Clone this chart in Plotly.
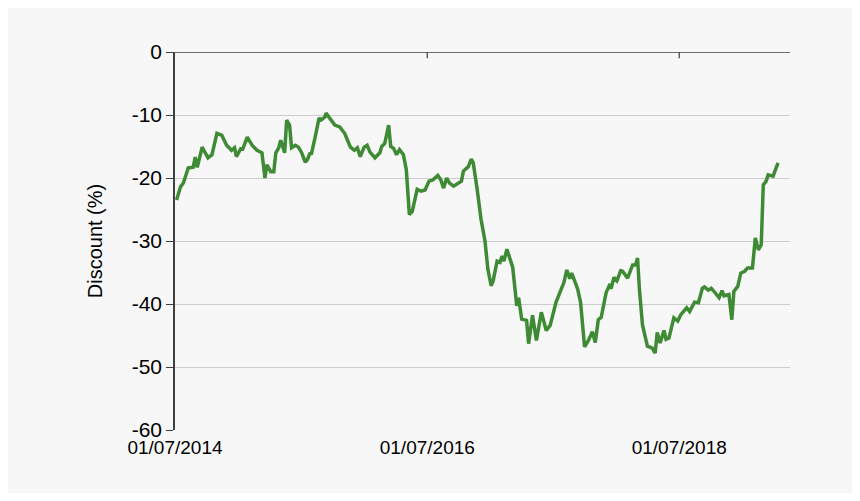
import plotly.graph_objects as go
from datetime import datetime, timedelta

# time as fractional years
years = [2014.508,2014.539,2014.562,2014.601,2014.640,2014.656,2014.672,2014.711,2014.757,2014.789,
2014.828,2014.866,2014.905,2014.944,2014.968,2014.983,2015.022,2015.030,2015.069,2015.108,
2015.147,2015.186,2015.210,2015.225,2015.256,2015.280,2015.296,2015.319,2015.335,2015.366,
2015.382,2015.405,2015.421,2015.452,2015.475,2015.499,2015.530,2015.546,2015.569,2015.577,
2015.608,2015.616,2015.639,2015.655,2015.686,2015.694,2015.733,2015.764,2015.803,2015.842,
2015.888,2015.919,2015.943,2015.966,2015.997,2016.021,2016.044,2016.083,2016.122,2016.137,
2016.161,2016.192,2016.208,2016.231,2016.254,2016.278,2016.309,2016.332,2016.356,2016.379,
2016.418,2016.449,2016.481,2016.512,2016.543,2016.582,2016.605,2016.628,2016.652,2016.675,
2016.707,2016.746,2016.769,2016.785,2016.824,2016.847,2016.863,2016.894,2016.925,2016.956,
2016.979,2017.003,2017.019,2017.050,2017.073,2017.089,2017.104,2017.128,2017.151,2017.174,
2017.206,2017.221,2017.245,2017.284,2017.300,2017.331,2017.362,2017.401,2017.440,2017.471,
2017.518,2017.557,2017.580,2017.603,2017.627,2017.642,2017.689,2017.712,2017.744,2017.775,
2017.806,2017.829,2017.853,2017.876,2017.915,2017.946,2017.954,2017.977,2018.001,2018.032,
2018.047,2018.086,2018.126,2018.149,2018.165,2018.180,2018.204,2018.243,2018.282,2018.305,
2018.321,2018.344,2018.375,2018.391,2018.414,2018.453,2018.484,2018.508,2018.555,2018.578,
2018.617,2018.648,2018.679,2018.695,2018.726,2018.750,2018.773,2018.812,2018.835,2018.851,
2018.890,2018.913,2018.929,2018.960,2018.984,2019.015,2019.038,2019.077,2019.100,2019.124,
2019.147,2019.163,2019.186,2019.202,2019.241,2019.280]

discount = [-23.5,-21.4,-20.8,-18.4,-18.3,-16.7,-18.3,-15.1,-16.8,-16.3,
-12.9,-13.2,-14.8,-15.6,-15.2,-16.6,-15.2,-15.6,-13.5,-14.8,
-15.6,-16.0,-20.0,-17.9,-19.0,-19.0,-16.0,-15.2,-14.0,-16.0,
-10.8,-11.6,-15.2,-14.8,-15.1,-15.9,-17.5,-17.1,-16.0,-16.3,
-13.5,-12.7,-10.5,-10.8,-10.3,-9.7,-10.8,-11.6,-11.9,-12.9,
-15.1,-15.6,-15.2,-16.6,-15.1,-14.8,-15.9,-16.8,-16.0,-15.0,
-14.5,-11.6,-15.0,-15.3,-16.3,-15.5,-16.3,-18.7,-25.8,-25.3,
-21.8,-22.1,-21.9,-20.5,-20.3,-19.6,-20.3,-21.6,-20.0,-20.8,
-21.3,-20.7,-20.5,-18.9,-18.2,-17.0,-17.6,-21.8,-26.6,-30.0,
-34.5,-37.1,-36.3,-33.2,-33.4,-32.4,-33.2,-31.3,-32.6,-34.2,
-40.3,-39.0,-42.4,-42.6,-46.3,-41.8,-45.8,-41.3,-44.2,-43.4,
-39.7,-37.6,-36.6,-34.6,-36.0,-35.1,-37.6,-39.7,-46.8,-45.8,
-44.4,-46.1,-42.5,-42.1,-38.2,-36.8,-37.6,-35.8,-36.3,-34.7,
-34.8,-35.9,-33.8,-33.8,-32.7,-37.7,-43.3,-46.7,-47.0,-47.8,
-44.5,-46.2,-44.2,-45.6,-45.4,-42.2,-42.7,-41.7,-40.6,-41.2,
-39.7,-39.8,-37.5,-37.3,-37.8,-37.5,-38.0,-39.0,-37.9,-38.7,
-38.5,-42.5,-38.0,-37.2,-35.1,-34.8,-34.3,-34.3,-29.5,-31.4,
-30.6,-21.1,-20.5,-19.5,-19.7,-17.6]

tick_dates = ["2014-07-01", "2016-07-01", "2018-07-01"]
tick_labels = ["01/07/2014", "01/07/2016", "01/07/2018"]
y_ticks = [0, -10, -20, -30, -40, -50, -60]
y_labels = ["0", "-10", "-20", "-30", "-40", "-50", "-60"]

def to_date(y):
    yr = int(y)
    start = datetime(yr, 1, 1)
    return start + timedelta(days=(y - yr) * 365.25)

dates = [to_date(y) for y in years]

fig = go.Figure()
fig.add_trace(go.Scatter(x=dates, y=discount, mode="lines",
                         line=dict(color="#3f8a35", width=3.5), hoverinfo="skip"))

fig.update_layout(
    width=845, height=485,
    margin=dict(l=167, r=63, t=44, b=63),
    paper_bgcolor="#f7f7f7", plot_bgcolor="#f7f7f7",
    showlegend=False,
    font=dict(family="Liberation Sans, Arial, sans-serif", size=20, color="#000"),
    xaxis=dict(range=["2014-07-01", "2019-05-18"], tickvals=tick_dates, ticktext=tick_labels,
               showgrid=False, zeroline=False, showline=False, ticks="", ticklabelstandoff=4,
               tickfont=dict(size=19)),
    yaxis=dict(range=[-60, 0], tickvals=y_ticks, ticktext=y_labels,
               showgrid=True, gridcolor="#cccccc", gridwidth=1,
               zeroline=False, showline=True, linecolor="#404040", linewidth=1.5,
               ticks="outside", ticklen=7, tickcolor="#404040",
               title=dict(text="Discount (%)", font=dict(size=20), standoff=24),
               tickfont=dict(size=21)),
)
fig.add_shape(type="line", xref="paper", yref="y", x0=0, x1=1, y0=0, y1=0,
              line=dict(color="#404040", width=1.5))
for d in tick_dates[1:]:
    fig.add_shape(type="line", xref="x", yref="y", x0=d, x1=d, y0=0, y1=-1,
                  line=dict(color="#404040", width=1.2))

fig.write_html("out.html")
